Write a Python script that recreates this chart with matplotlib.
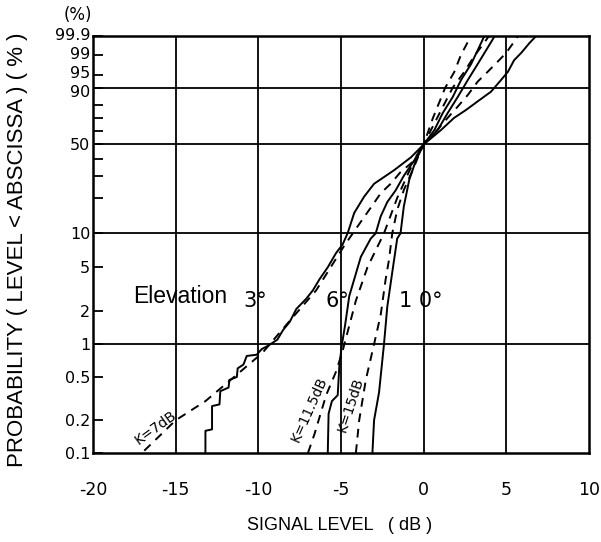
import numpy as np
import matplotlib
matplotlib.use("Agg")
import matplotlib.pyplot as plt
from matplotlib.transforms import ScaledTranslation

el3_db = [-13.2, -13.2, -12.8, -12.8, -12.35, -12.3, -11.8, -11.75, -11.3, -11.25,
          -10.9, -10.7, -10.1, -9.8, -9.4, -8.85, -8.5, -8.1, -7.7, -7.1, -6.7,
          -6.3, -5.8, -5.3, -4.9, -4.6, -4.2, -3.6, -3.0, -1.8, -0.77, 0.0,
          1.05, 1.84, 2.56, 3.25, 4.07, 4.68, 5.1, 5.47, 5.9, 6.4, 6.8]
el3_pct = [0.1, 0.16, 0.165, 0.27, 0.28, 0.37, 0.40, 0.47, 0.5, 0.6,
           0.65, 0.78, 0.8, 0.9, 0.97, 1.1, 1.35, 1.6, 2.1, 2.6, 3.1,
           3.9, 5.0, 6.7, 8.0, 10, 15, 20.5, 26, 33, 41, 50,
           61, 70.4, 76.3, 82.1, 88.0, 93.4, 96.1, 98.4, 99.2, 99.74, 99.9]

el6_db = [-5.8, -5.75, -5.55, -5.2, -5.1, -4.95, -4.75, -4.5, -4.2, -3.8, -3.2,
          -2.9, -2.6, -2.2, -1.7, -1.2, -0.57, 0.0, 0.85, 1.45, 2.06, 2.67,
          3.27, 3.78, 4.3]
el6_pct = [0.1, 0.23, 0.3, 0.34, 0.63, 0.98, 1.5, 2.75, 3.9, 6.2, 9.0,
           10, 14, 18.5, 23, 30, 39, 50, 61, 74, 85, 93.4,
           97.8, 99.4, 99.9]

el10_db = [-3.1, -3.0, -2.7, -2.4, -2.2, -1.9, -1.6, -1.4, -1.2, -0.87, -0.47,
           0.0, 0.65, 1.15, 1.76, 2.26, 2.87, 3.27, 3.67]
el10_pct = [0.1, 0.2, 0.36, 1.0, 2.2, 4.5, 9.0, 10, 17, 28, 39,
            50, 61, 74, 85, 93.4, 97.8, 99.4, 99.9]

k7_db = [-16.9, -15.0, -13.2, -11.4, -9.76, -8.2, -6.5, -4.8, -3.8, -3.2, -2.6,
         -2.0, -1.4, -0.67, 0.0, 0.93, 1.45, 2.06, 2.67, 3.27, 3.88, 4.48,
         4.99, 5.39, 5.7]
k7_pct = [0.105, 0.2, 0.30, 0.51, 0.83, 1.57, 3.1, 7.8, 12.6, 16.6, 21.8,
          26, 32, 38, 50, 62.6, 70.4, 78.7, 86.2, 92.8, 96.1, 98.2,
          99.2, 99.72, 99.9]

k115_db = [-7.0, -6.6, -5.9, -5.3, -4.9, -4.1, -3.4, -2.4, -1.6, -0.9, -0.4,
           0.0, 0.8, 1.75, 2.45, 3.1, 3.6, 3.95]
k115_pct = [0.1, 0.15, 0.34, 0.56, 0.87, 2.5, 5.0, 10, 20, 32, 42,
            50, 70, 90, 96, 99, 99.7, 99.9]

k15_db = [-4.1, -3.9, -3.5, -3.0, -2.6, -2.3, -2.1, -1.9, -1.6, -1.2, -0.67,
          -0.16, 0.0, 0.55, 1.3, 1.85, 2.25, 2.6, 2.85]
k15_pct = [0.1, 0.2, 0.47, 1.0, 1.85, 3.9, 5.8, 10, 15.9, 23.2, 33,
           46, 50, 70, 90, 96, 99, 99.7, 99.9]

y_ticks = [0.1, 0.2, 0.5, 1, 2, 5, 10, 50, 90, 95, 99, 99.9]
y_ticklabels = ["0.1", "0.2", "0.5", "1", "2", "5", "10", "50", "90", "95", "99", "99.9"]
# small vertical nudges (points) for the crowded labels at the top
y_label_nudge = {"99.9": 1.5, "99": 1.5, "95": 2.5, "90": -2.5}
y_minor = [20, 30, 40, 60, 70, 80]
y_grid = [1, 10, 50, 90]
x_ticks = [-20, -15, -10, -5, 0, 5, 10]
x_grid = [-15, -10, -5, 0, 5]


def _fwd(p):
    p = np.clip(np.asarray(p, dtype=float), 1e-6, 100 - 1e-9)
    return np.log(-np.log(1.0 - p / 100.0))


def _inv(u):
    return 100.0 * (1.0 - np.exp(-np.exp(np.asarray(u, dtype=float))))


plt.rcParams["font.family"] = ["Liberation Sans", "DejaVu Sans"]
tick_font = ["DejaVu Sans"]

fig = plt.figure(figsize=(6.01, 5.42), dpi=100)
ax = fig.add_axes([93 / 601, 1 - 453 / 542, (589 - 93) / 601, (453 - 36) / 542])
ax.set_yscale("function", functions=(_fwd, _inv))
ax.set_xlim(-20, 10)
ax.set_ylim(0.1, 99.9)

for g in y_grid:
    ax.axhline(g, color="black", lw=1.3, zorder=1)
for g in x_grid:
    ax.axvline(g, color="black", lw=1.3, zorder=1)

solid = dict(color="black", lw=1.4, zorder=3)
dashed = dict(color="black", lw=1.4, ls=(0, (4.5, 3.5)), zorder=3)
ax.plot(el3_db, el3_pct, **solid)
ax.plot(el6_db, el6_pct, **solid)
ax.plot(el10_db, el10_pct, **solid)
ax.plot(k7_db, k7_pct, **dashed)
ax.plot(k115_db, k115_pct, **dashed)
ax.plot(k15_db, k15_pct, **dashed)

ax.set_yticks(y_ticks)
ax.set_yticklabels(y_ticklabels, family=tick_font, fontsize=11.5)
ax.set_yticks(y_minor, minor=True)
ax.yaxis.set_minor_formatter(plt.NullFormatter())
ax.tick_params(axis="y", which="both", direction="in", length=7, width=1.3, pad=2)
for lab in ax.get_yticklabels():
    dy = y_label_nudge.get(lab.get_text(), 0)
    if dy:
        lab.set_transform(lab.get_transform() +
                          ScaledTranslation(0, dy / 72, fig.dpi_scale_trans))
ax.set_xticks(x_ticks)
ax.set_xticklabels([str(v) for v in x_ticks], family=tick_font, fontsize=12.5)
ax.tick_params(axis="x", length=0, pad=20)
for s in ax.spines.values():
    s.set_linewidth(1.8)

ax.text(-17.6, 2.7, "Elevation", fontsize=16.5, va="center", ha="left")
ax.text(-10.9, 2.5, "3°", fontsize=15, va="center", ha="left", family=tick_font)
ax.text(-5.95, 2.5, "6°", fontsize=15, va="center", ha="left", family=tick_font)
ax.text(-1.5, 2.5, "1 0°", fontsize=15, va="center", ha="left", family=tick_font)

ax.text(-16.2, 0.17, "K=7dB", fontsize=10, rotation=36, ha="center", va="center",
        family=tick_font)
ax.text(-6.9, 0.25, "K=11.5dB", fontsize=10, rotation=66, ha="center", va="center",
        family=tick_font)
ax.text(-4.45, 0.28, "K=15dB", fontsize=10, rotation=72, ha="center", va="center",
        family=tick_font)

fig.text(78 / 601, 1 - 15 / 542, "(%)", fontsize=12, ha="center", va="center",
         family=tick_font)
fig.text(18 / 601, 1 - 250 / 542, "PROBABILITY ( LEVEL < ABSCISSA ) ( % )",
         rotation=90, fontsize=16, ha="center", va="center")
fig.text(340 / 601, 1 - 525 / 542, "SIGNAL LEVEL   ( dB )", fontsize=13,
         ha="center", va="center")

fig.savefig("out.png", dpi=100)
